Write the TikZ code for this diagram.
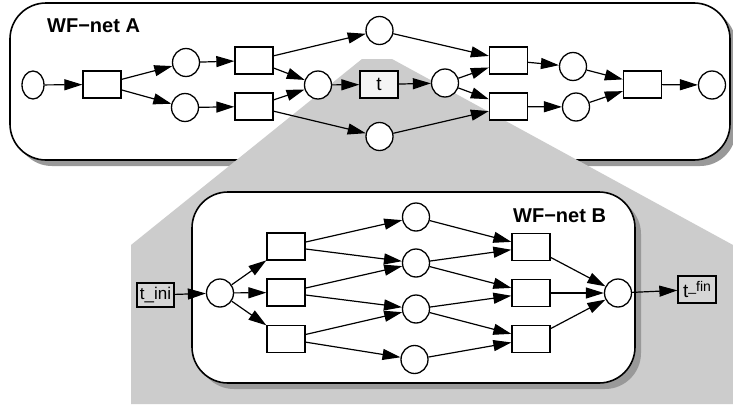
\documentclass[tikz,border=0pt]{standalone}
\usepackage{fontspec}
\setmainfont{Liberation Sans}
\usetikzlibrary{shapes.geometric,arrows.meta}
\definecolor{bggray}{HTML}{CCCCCC}
\definecolor{shgray}{HTML}{999999}
\definecolor{tfill}{HTML}{F4F4F4}
\definecolor{tgray}{HTML}{D6D6D6}
\tikzset{
  place/.style={draw=black, line width=1.3pt, fill=white, ellipse, minimum width=27pt, minimum height=28pt, inner sep=0pt},
  trans/.style={draw=black, line width=1.3pt, fill=white, rectangle, minimum width=38pt, minimum height=27pt, inner sep=0pt},
  arc/.style={line width=1.2pt, -{Triangle[length=18pt,width=11pt]}},
  netbox/.style={draw=black, line width=1.6pt, fill=white, rounded corners=36pt},
  netshadow/.style={fill=shgray, rounded corners=36pt},
  title/.style={font=\fontsize{20}{24}\selectfont\bfseries, inner sep=0pt, anchor=base west},
  lbl/.style={font=\fontsize{19}{22}\selectfont}
}
\begin{document}
\begin{tikzpicture}[x=1pt,y=-1pt]
\useasboundingbox (0,0) rectangle (733,407);
\fill[white] (0,0) rectangle (733,407);
% Net A box
\fill[netshadow] (16,9) rectangle (736,166);
\draw[netbox] (10,3) rectangle (730,160);
% gray funnel
\fill[bggray] (362,59) -- (392,59) -- (733,245) -- (733,404) -- (131,404) -- (131,245) -- cycle;
\node[title] (titleA) at (47,32) {WF−net A};
% Net A nodes
\node[place, minimum width=22pt] (pA1) at (33,85) {};
\node[trans] (tA1) at (102,84.5) {};
\node[place] (pA2) at (186,62.5) {};
\node[place] (pA3) at (185,107.5) {};
\node[trans] (tA2) at (254,60.5) {};
\node[trans] (tA3) at (254,106.5) {};
\node[place] (pA4) at (318,85) {};
\node[place] (pA5) at (379.5,30.5) {};
\node[trans, fill=tfill, lbl] (tA) at (379,84.5) {t};
\node[place] (pA6) at (379.5,136.5) {};
\node[place] (pA7) at (445,83) {};
\node[trans] (tA4) at (508.5,60.5) {};
\node[trans] (tA5) at (508.5,106.5) {};
\node[place] (pA8) at (573,66.5) {};
\node[place] (pA9) at (576,107) {};
\node[trans] (tA6) at (642.5,84.5) {};
\node[place] (pA10) at (712,85) {};
\draw[arc] (pA1) -- (tA1);
\draw[arc] (tA1) -- (pA2);
\draw[arc] (tA1) -- (pA3);
\draw[arc] (pA2) -- (tA2);
\draw[arc] (pA3) -- (tA3);
\draw[arc] (tA2) -- (pA5);
\draw[arc] (tA2) -- (pA4);
\draw[arc] (tA3) -- (pA4);
\draw[arc] (tA3) -- (pA6);
\draw[arc] (pA4) -- (tA);
\draw[arc] (tA) -- (pA7);
\draw[arc] (pA5) -- (tA4);
\draw[arc] (pA7) -- (tA4);
\draw[arc] (pA7) -- (tA5);
\draw[arc] (pA6) -- (tA5);
\draw[arc] (tA4) -- (pA8);
\draw[arc] (tA5) -- (pA9);
\draw[arc] (pA8) -- (tA6);
\draw[arc] (pA9) -- (tA6);
\draw[arc] (tA6) -- (pA10);
% Net B box
\fill[netshadow] (198,198) rectangle (641,389);
\draw[netbox] (192,192) rectangle (635,383);
\node[title] (titleB) at (513,222) {WF−net B};
% Net B nodes
\node[trans, fill=tgray, minimum width=37pt, minimum height=24pt, font=\fontsize{17}{20}\selectfont] (tini) at (155.5,295) {t\_ini};
\node[place] (pB1) at (220,293) {};
\node[trans] (tB1) at (286,246.5) {};
\node[trans] (tB2) at (286,292.5) {};
\node[trans] (tB3) at (286,339) {};
\node[place] (pB2) at (416,217) {};
\node[place] (pB3) at (416,263) {};
\node[place] (pB4) at (416,309) {};
\node[place] (pB5) at (414.5,359.5) {};
\node[trans] (tB4) at (531,247) {};
\node[trans] (tB5) at (531,293) {};
\node[trans] (tB6) at (531,339) {};
\node[place] (pB6) at (618,293) {};
\node[trans, fill=tgray, lbl] (tfin) at (697,289.5) {t\raisebox{6pt}{\fontsize{14}{16}\selectfont\_fin}};
\draw[arc] (tini) -- (pB1);
\draw[arc] (pB1) -- (tB1);
\draw[arc] (pB1) -- (tB2);
\draw[arc] (pB1) -- (tB3);
\draw[arc] (tB1) -- (pB2);
\draw[arc] (tB1) -- (pB3);
\draw[arc] (tB2) -- (pB3);
\draw[arc] (tB2) -- (pB4);
\draw[arc] (tB3) -- (pB4);
\draw[arc] (tB3) -- (pB5);
\draw[arc] (pB2) -- (tB4);
\draw[arc] (pB3) -- (tB4);
\draw[arc] (pB3) -- (tB5);
\draw[arc] (pB4) -- (tB5);
\draw[arc] (pB4) -- (tB6);
\draw[arc] (pB5) -- (tB6);
\draw[arc] (tB4) -- (pB6);
\draw[arc] (tB5) -- (pB6);
\draw[arc] (tB6) -- (pB6);
\draw[arc] (pB6) -- (tfin);
\end{tikzpicture}
\end{document}
